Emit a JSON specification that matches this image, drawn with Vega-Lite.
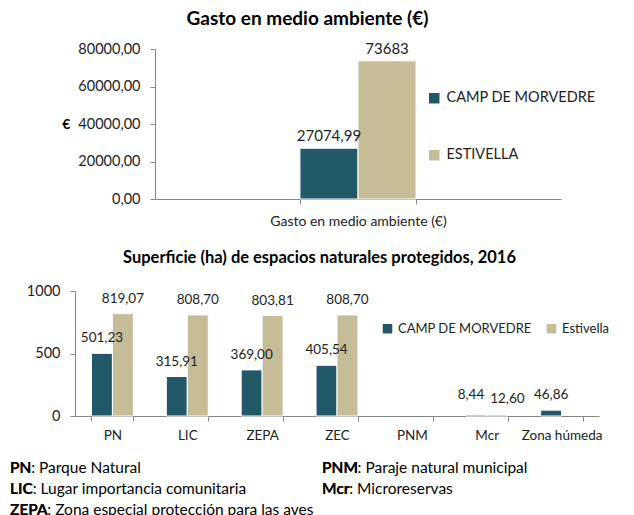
{
  "$schema": "https://vega.github.io/schema/vega-lite/v6.json",
  "padding": {"left": 10, "top": 10, "right": 0, "bottom": 0},
  "config": {
    "font": "Lato",
    "view": {"stroke": null},
    "title": {"fontWeight": "bold", "color": "#000", "frame": "group"},
    "axis": {"domainColor": "#868686", "tickColor": "#868686", "tickSize": 5, "labelColor": "#222", "labelFontSize": 14.5, "grid": false, "labelLimit": 400}
  },
  "spacing": 21,
  "resolve": {"scale": {"color": "independent", "xOffset": "independent"}, "legend": {"color": "independent"}},
  "vconcat": [
    {
      "width": 551,
      "height": 150,
      "title": {"text": "Gasto  en medio ambiente (€)", "fontSize": 19, "offset": 12, "dx": 22},
      "data": {"values": [
        {"cat": "Gasto  en medio ambiente (€)", "serie": "CAMP DE MORVEDRE", "valor": 27074.99, "etiqueta": "27074,99"},
        {"cat": "Gasto  en medio ambiente (€)", "serie": "ESTIVELLA", "valor": 73683, "etiqueta": "73683"}
      ]},
      "encoding": {
        "x": {"field": "cat", "type": "nominal", "scale": {"range": [145, 551], "paddingInner": 0.714, "paddingOuter": 0.357},
              "axis": {"title": null, "labelAngle": 0, "tickBand": "extent", "labelPadding": 10, "labelFontSize": 14}},
        "xOffset": {"field": "serie", "type": "nominal", "scale": {"domain": ["CAMP DE MORVEDRE", "ESTIVELLA"]}},
        "y": {"field": "valor", "type": "quantitative", "scale": {"domain": [0, 80000]},
              "axis": {"values": [0, 20000, 40000, 60000, 80000],
                       "labelExpr": "replace(format(datum.value, '.2f'), '.', ',')",
                       "labelPadding": 10, "offset": -145,
                       "title": "€", "titleAngle": 0, "titleAlign": "right", "titleBaseline": "middle",
                       "titleFontWeight": "bold", "titleFontSize": 14, "titleColor": "#000", "titlePadding": 8}}
      },
      "layer": [
        {
          "mark": {"type": "bar", "stroke": "white", "strokeWidth": 1},
          "encoding": {
            "color": {"field": "serie", "type": "nominal",
                      "scale": {"domain": ["CAMP DE MORVEDRE", "ESTIVELLA"], "range": ["#215968", "#C4BD97"]},
                      "legend": {"title": null, "orient": "none", "legendX": 417, "legendY": 42, "direction": "vertical",
                                 "symbolType": "square", "symbolSize": 110, "symbolStrokeWidth": 0, "labelFontSize": 14.5,
                                 "labelColor": "#222", "rowPadding": 42, "labelOffset": 5}}
          }
        },
        {
          "mark": {"type": "text", "baseline": "middle", "dy": -12, "fontSize": 15, "color": "#222"},
          "encoding": {"text": {"field": "etiqueta"}}
        }
      ]
    },
    {
      "spacing": 15,
      "vconcat": [
        {
          "width": 589,
          "height": 125,
          "title": {"text": "Superficie (ha) de espacios naturales protegidos, 2016", "fontSize": 16.5, "offset": 17, "dx": 15},
          "data": {"values": [
            {"cat": "PN", "serie": "CAMP DE MORVEDRE", "valor": 501.23, "etiqueta": "501,23"},
            {"cat": "PN", "serie": "Estivella", "valor": 819.07, "etiqueta": "819,07"},
            {"cat": "LIC", "serie": "CAMP DE MORVEDRE", "valor": 315.91, "etiqueta": "315,91"},
            {"cat": "LIC", "serie": "Estivella", "valor": 808.70, "etiqueta": "808,70"},
            {"cat": "ZEPA", "serie": "CAMP DE MORVEDRE", "valor": 369.00, "etiqueta": "369,00"},
            {"cat": "ZEPA", "serie": "Estivella", "valor": 803.81, "etiqueta": "803,81"},
            {"cat": "ZEC", "serie": "CAMP DE MORVEDRE", "valor": 405.54, "etiqueta": "405,54"},
            {"cat": "ZEC", "serie": "Estivella", "valor": 808.70, "etiqueta": "808,70"},
            {"cat": "Mcr", "serie": "CAMP DE MORVEDRE", "valor": 8.44, "etiqueta": "8,44"},
            {"cat": "Mcr", "serie": "Estivella", "valor": 12.60, "etiqueta": "12,60"},
            {"cat": "Zona húmeda", "serie": "CAMP DE MORVEDRE", "valor": 46.86, "etiqueta": "46,86"}
          ]},
          "encoding": {
            "x": {"field": "cat", "type": "nominal",
                  "scale": {"domain": ["PN", "LIC", "ZEPA", "ZEC", "PNM", "Mcr", "Zona húmeda"], "range": [65, 589], "paddingInner": 0.44, "paddingOuter": 0.22},
                  "axis": {"title": null, "labelAngle": 0, "tickBand": "extent", "labelPadding": 7, "labelFontSize": 13.5}},
            "xOffset": {"field": "serie", "type": "nominal", "scale": {"domain": ["CAMP DE MORVEDRE", "Estivella"]}},
            "y": {"field": "valor", "type": "quantitative", "scale": {"domain": [0, 1000]},
                  "axis": {"values": [0, 500, 1000], "format": "d", "labelPadding": 10, "offset": -65, "title": null}}
          },
          "layer": [
            {
              "mark": {"type": "bar", "stroke": "white", "strokeWidth": 1},
              "encoding": {
                "color": {"field": "serie", "type": "nominal",
                          "scale": {"domain": ["CAMP DE MORVEDRE", "Estivella"], "range": ["#215968", "#C4BD97"]},
                          "legend": {"title": null, "orient": "none", "legendX": 371, "legendY": 31, "direction": "horizontal",
                                     "symbolType": "square", "symbolSize": 90, "symbolStrokeWidth": 0, "labelFontSize": 13,
                                     "labelColor": "#222", "columnPadding": 13, "labelOffset": 4}}
              }
            },
            {
              "transform": [{"filter": "datum.cat != 'Mcr'"}],
              "mark": {"type": "text", "baseline": "middle", "dy": -15, "fontSize": 13.5, "color": "#222"},
              "encoding": {"text": {"field": "etiqueta"}}
            },
            {
              "transform": [{"filter": "datum.cat == 'Mcr' && datum.serie == 'CAMP DE MORVEDRE'"}],
              "mark": {"type": "text", "baseline": "middle", "align": "right", "dx": 8, "dy": -20, "fontSize": 13.5, "color": "#222"},
              "encoding": {"text": {"field": "etiqueta"}}
            },
            {
              "transform": [{"filter": "datum.cat == 'Mcr' && datum.serie == 'Estivella'"}],
              "mark": {"type": "text", "baseline": "middle", "align": "left", "dx": -7, "dy": -15, "fontSize": 13.5, "color": "#222"},
              "encoding": {"text": {"field": "etiqueta"}}
            }
          ]
        },
        {
          "width": 624,
          "height": 63,
          "data": {"values": [
            {"abrev": "PN", "linea": "PN: Parque Natural", "col": 0, "fila": 0},
            {"abrev": "LIC", "linea": "LIC: Lugar importancia comunitaria", "col": 0, "fila": 1},
            {"abrev": "ZEPA", "linea": "ZEPA: Zona especial protección para las aves", "col": 0, "fila": 2},
            {"abrev": "PNM", "linea": "PNM: Paraje natural municipal", "col": 1, "fila": 0},
            {"abrev": "Mcr", "linea": "Mcr: Microreservas", "col": 1, "fila": 1}
          ]},
          "encoding": {
            "x": {"field": "col", "type": "quantitative", "scale": {"domain": [0, 2], "nice": false, "zero": false}, "axis": null},
            "y": {"field": "fila", "type": "quantitative", "scale": {"domain": [-0.5, 2.5], "nice": false, "zero": false, "reverse": true}, "axis": null}
          },
          "layer": [
            {
              "mark": {"type": "text", "align": "left", "baseline": "middle", "fontSize": 15.5, "color": "#000"},
              "encoding": {"text": {"field": "linea"}}
            },
            {
              "mark": {"type": "text", "align": "left", "baseline": "middle", "fontSize": 15.5, "fontWeight": "bold", "color": "#000"},
              "encoding": {"text": {"field": "abrev"}}
            }
          ]
        }
      ]
    }
  ]
}
